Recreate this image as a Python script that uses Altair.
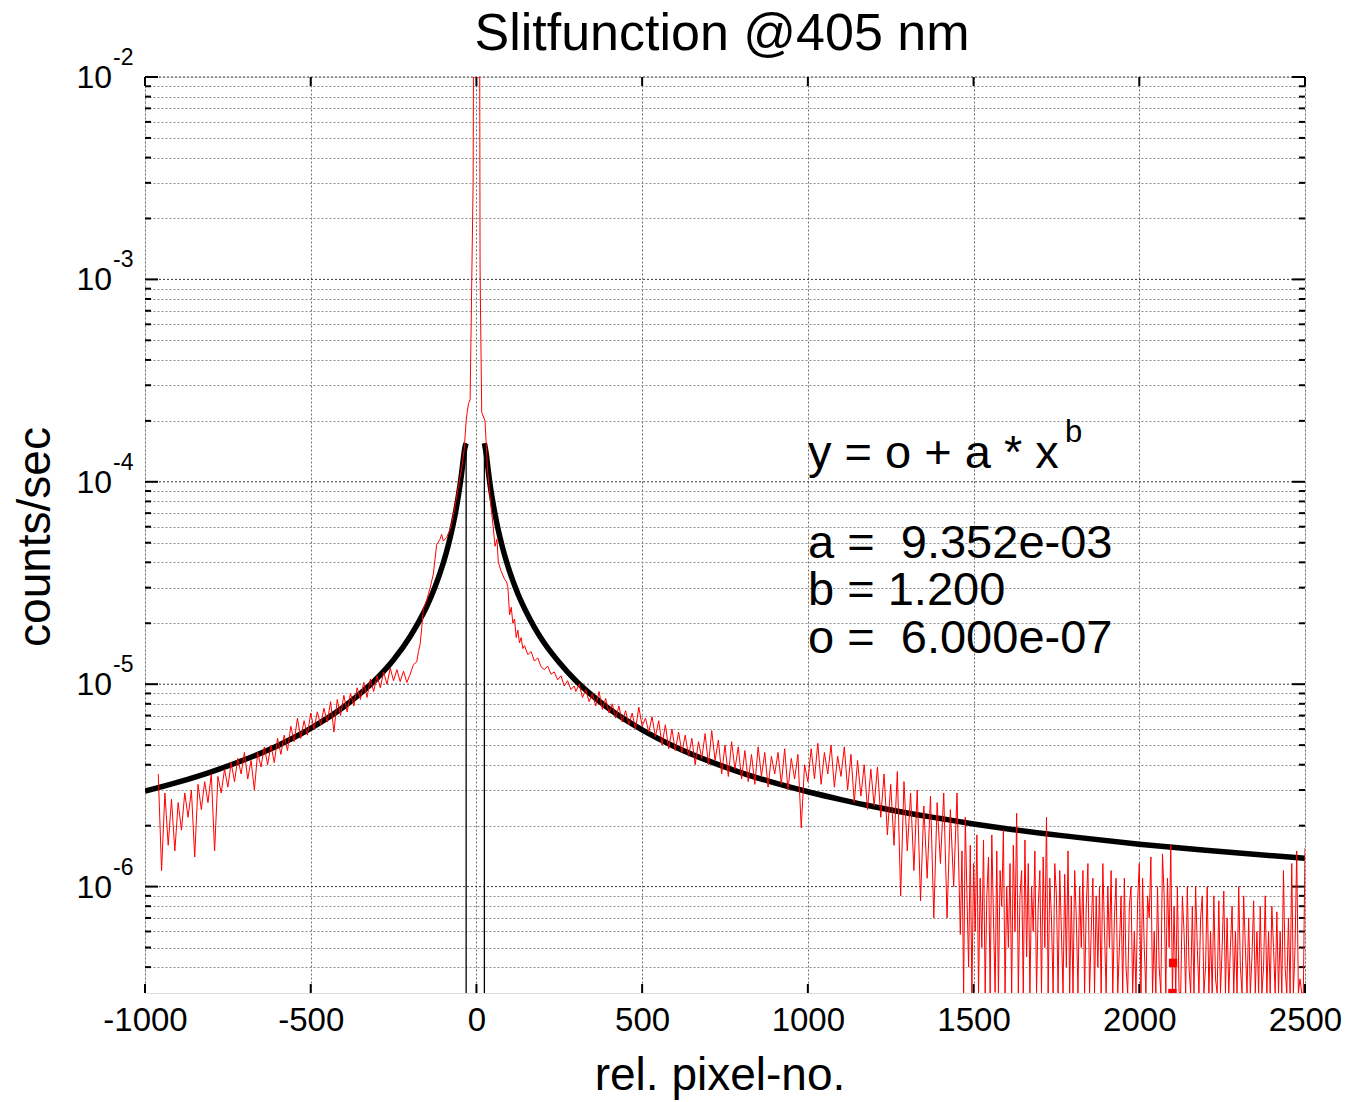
import altair as alt
import pandas as pd

# ---------------- text ----------------
TITLE = "Slitfunction @405 nm"
X_TITLE = "rel. pixel-no."
Y_TITLE = "counts/sec"
FIT_LINES = ["y = o + a * x", "a = \u00a09.352e-03", "b = 1.200", "o = \u00a06.000e-07"]
FIT_SUP = "b"

# ---------------- axes ----------------
x_ticks = [-1000, -500, 0, 500, 1000, 1500, 2000, 2500]
y_decades = [1e-2, 1e-3, 1e-4, 1e-5, 1e-6]
y_exponents = ["-2", "-3", "-4", "-5", "-6"]
y_minor = [k * 10.0 ** e for e in range(-7, -2) for k in range(2, 10) if k * 10.0 ** e > 3.05e-7]
Y_MIN, Y_MAX = 2.98e-7, 1e-2

# ---------------- measured slit function (red), units of 1e-6 counts/sec ----------------
red_left_x = list(range(-960, -199, 10))
red_left_y = [3.6, 1.2, 2.9, 1.6, 2.7, 1.5, 2.6, 1.9, 2.9, 2.2,
              3.0, 1.4, 3.2, 2.4, 3.3, 2.6, 3.6, 1.5, 3.5, 2.9,
              3.8, 3.1, 4.1, 3.3, 4.3, 3.6, 4.6, 3.4, 4.2, 3.0,
              4.6, 3.9, 4.9, 4.0, 5.0, 4.1, 5.4, 4.5, 5.6, 4.7,
              6.2, 5.2, 6.8, 5.4, 6.6, 5.6, 7.2, 6.0, 7.3, 6.3,
              7.6, 6.5, 8.2, 5.8, 8.4, 7.0, 8.8, 7.3, 9.0, 7.8,
              9.6, 8.4, 10.2, 8.6, 10.6, 9.2, 11.0, 9.6, 11.5, 10.0,
              12.0, 10.4, 11.8, 10.3, 11.6, 10.2, 11.2]

red_center_x = [-190, -180, -175, -170, -165, -160, -150, -140, -130, -120,
                -110, -105, -100, -90, -80, -75, -65, -55, -44, -37,
                -31, -28, -24, -19, -10, -9, 0, 10, 11, 12,
                16, 26, 29, 33, 41, 51, 56, 62, 66, 75,
                85, 91, 95, 100, 105, 110, 115, 120, 125, 130,
                135, 140, 145, 155, 165, 175, 185, 195, 205, 215,
                225, 235, 245, 255, 265, 275, 285, 295]
red_center_y = [12.5, 12.9, 14.5, 15.7, 19, 23.7, 26, 29.8, 35, 49,
                52, 55, 51, 53, 58, 62, 75, 94, 118, 144,
                200, 220, 243, 255, 3000, 15000, 20000, 15000, 1150, 800,
                220, 200, 160, 118, 84, 59, 48, 52, 40, 36,
                33, 32, 30, 22, 24, 20, 21, 17, 18.5, 16,
                17, 15, 15.5, 14, 14.5, 13, 13.5, 12.2, 11.8, 12.3,
                11.2, 11.5, 10.5, 11.0, 9.8, 10.4, 9.4, 9.8]

red_right_x = list(range(300, 1461, 10))
red_right_y = [9.2, 10.0, 8.6, 9.4, 8.2, 9.0, 7.8, 9.2, 7.5, 8.5,
               7.2, 8.0, 6.8, 7.8, 6.5, 7.4, 6.3, 7.2, 6.0, 7.7,
               6.2, 6.8, 5.8, 6.9, 5.5, 6.6, 5.0, 6.3, 4.8, 6.0,
               4.7, 5.8, 4.6, 5.6, 4.4, 5.4, 4.0, 5.2, 4.3, 5.7,
               4.0, 5.9, 4.2, 5.3, 3.6, 5.0, 3.5, 5.2, 3.8, 4.9,
               3.4, 4.7, 3.3, 4.5, 3.2, 4.9, 3.5, 4.6, 3.1, 4.4,
               3.6, 4.6, 3.2, 4.8, 3.0, 4.3, 3.4, 4.5, 1.95, 4.0,
               3.3, 4.8, 3.4, 5.1, 3.2, 4.6, 3.6, 5.0, 3.1, 4.4,
               3.5, 4.9, 3.0, 4.5, 2.6, 4.2, 2.8, 4.0, 2.4, 3.8,
               2.5, 3.9, 2.2, 3.6, 1.8, 3.2, 1.6, 3.7, 0.9, 3.3,
               1.5, 2.9, 1.2, 3.0, 0.85, 2.5, 1.1, 2.8, 0.7, 2.6,
               1.3, 2.9, 0.7, 2.4, 1.0, 2.9, 0.58]

red_tail_x = list(range(1465, 2501, 5))
red_tail_y = [1.5, 0.1, 2.2, 0.9, 0.4, 1.6, 0.1, 1.3, 0.6, 1.8,
              0.1, 1.1, 0.5, 1.7, 0.1, 0.9, 1.4, 0.1, 1.8, 0.7,
              0.3, 1.5, 0.1, 1.2, 0.8, 1.9, 0.1, 1.0, 0.5, 1.3,
              0.1, 1.6, 0.6, 2.3, 0.1, 0.9, 1.2, 0.1, 1.7, 0.45,
              1.3, 0.1, 1.0, 0.6, 1.5, 0.1, 0.8, 1.2, 0.1, 1.4,
              0.5, 2.2, 0.1, 1.1, 0.7, 0.1, 1.3, 0.9, 0.1, 1.2,
              0.6, 0.1, 1.15, 0.4, 1.5, 0.1, 0.9, 0.1, 1.2, 0.7,
              0.1, 1.0, 0.5, 1.2, 0.1, 0.8, 1.3, 0.1, 0.6, 1.1,
              0.1, 0.9, 0.4, 1.0, 0.1, 1.3, 0.6, 0.1, 1.0, 0.5,
              1.2, 0.1, 0.7, 1.1, 0.1, 0.5, 0.9, 0.1, 1.1, 0.4,
              0.1, 0.8, 1.0, 0.1, 0.6, 0.1, 0.85, 1.3, 0.1, 1.1,
              0.5, 0.1, 0.9, 0.7, 1.4, 0.1, 0.6, 0.1, 1.0, 0.4,
              0.1, 1.45, 0.9, 0.1, 1.1, 0.5, 1.6, 0.1, 0.8, 0.1,
              1.0, 0.3, 0.1, 0.9, 0.6, 0.1, 1.0, 0.4, 0.1, 0.8,
              0.1, 1.0, 0.5, 0.1, 0.7, 0.9, 0.1, 0.4, 1.0, 0.1,
              0.6, 0.1, 0.9, 0.35, 0.1, 0.85, 0.1, 0.5, 0.95, 0.1,
              0.7, 0.1, 0.5, 0.8, 0.1, 0.6, 0.1, 1.0, 0.4, 0.1,
              0.9, 0.5, 0.1, 0.7, 0.1, 0.45, 0.85, 0.1, 0.6, 0.1,
              0.8, 0.1, 0.4, 0.9, 0.1, 0.6, 0.1, 0.8, 0.5, 0.1,
              0.75, 0.1, 0.6, 0.1, 1.2, 0.4, 0.1, 0.7, 0.1, 1.3,
              0.1, 0.5, 1.5, 0.1, 0.35, 0.1, 0.1, 1.55]

red_marker_x = [2102, 2100]
red_marker_y = [0.42, 0.1]

# ---------------- fitted curve (black), units of 1e-6 counts/sec ----------------
fit_left_x = [-1000, -900, -800, -700, -600, -500, -400, -350, -300, -250, -200, -175,
              -150, -125, -100, -90, -80, -70, -60, -50, -45, -40, -35, -31]
fit_left_y = [2.96, 3.28, 3.69, 4.23, 4.97, 6.05, 7.73, 9.0, 10.7, 13.2, 17.2, 20.2,
              24.2, 30.2, 39.7, 45.2, 52.4, 61.9, 75.3, 95.2, 109.2, 127.5, 147, 155]
fit_right_x = [24, 30, 35, 40, 50, 60, 70, 80, 90, 100, 125, 150, 175, 200, 250, 300, 350,
               400, 500, 600, 700, 800, 900, 1000, 1100, 1200, 1300, 1400, 1500, 1600,
               1800, 2000, 2200, 2500]
fit_right_y = [155, 136, 116, 100, 78.6, 64.2, 54.0, 46.5, 40.7, 36.1, 28.0, 22.8, 19.1,
               16.4, 12.8, 10.4, 8.77, 7.56, 5.95, 4.90, 4.18, 3.65, 3.25, 2.94, 2.69,
               2.48, 2.31, 2.17, 2.04, 1.93, 1.76, 1.62, 1.51, 1.38]
fit_edge_x = [-31, 24]
fit_edge_y = [155, 155]

U = 1e-6
red_df = pd.DataFrame({
    "x": red_left_x + red_center_x + red_right_x + red_tail_x,
    "y": [v * U for v in red_left_y + red_center_y + red_right_y + red_tail_y],
}).sort_values("x")
marker_df = pd.DataFrame({"x": red_marker_x, "y": [v * U for v in red_marker_y]})
fit_df = pd.DataFrame({
    "x": fit_left_x + fit_right_x,
    "y": [v * U for v in fit_left_y + fit_right_y],
    "side": ["L"] * len(fit_left_x) + ["R"] * len(fit_right_x),
})
edge_df = pd.DataFrame({"x": fit_edge_x, "y": [v * U for v in fit_edge_y]})

W, H = 1160, 916
FONT = "Liberation Sans"

xs = alt.Scale(domain=[-1000, 2500], nice=False, zero=False)
ys = alt.Scale(type="log", domain=[Y_MIN, Y_MAX], nice=False, clamp=True)

X_AXIS = alt.Axis(values=x_ticks, grid=True, gridColor="#6f6f6f", gridDash=[2, 2], gridWidth=1,
                  ticks=False, domain=False, labelFont=FONT, labelFontSize=33, labelColor="black",
                  labelPadding=11, title=None, labelOverlap=False, labelFlush=False,
                  labelExpr="datum.value < 0 ? '-' + format(-datum.value, 'd') : format(datum.value, 'd')")
Y_AXIS = alt.Axis(values=y_minor, grid=True, gridColor="#8c8c8c", gridDash=[2, 2], gridWidth=1,
                  labels=False, ticks=False, domain=False, title=None)


def X(field):
    return alt.X(field, scale=xs, axis=X_AXIS)


def Y(field):
    return alt.Y(field, scale=ys, axis=Y_AXIS)


minor_df = pd.DataFrame({"y": y_minor})
decade_df = pd.DataFrame({"y": y_decades, "e": y_exponents})
xt_df = pd.DataFrame({"x": x_ticks})

decade_rules = alt.Chart(decade_df).mark_rule(color="#3c3c3c", strokeDash=[2, 2], strokeWidth=1).encode(
    y=Y("y:Q"))

# inward ticks
tick_style = dict(color="black", strokeWidth=2)
lt_minor = alt.Chart(minor_df).mark_rule(**tick_style).encode(y=Y("y:Q"), x=alt.value(0), x2=alt.value(6))
rt_minor = alt.Chart(minor_df).mark_rule(**tick_style).encode(y=Y("y:Q"), x=alt.value(W - 6), x2=alt.value(W))
lt_major = alt.Chart(decade_df).mark_rule(**tick_style).encode(y=Y("y:Q"), x=alt.value(0), x2=alt.value(13))
rt_major = alt.Chart(decade_df).mark_rule(**tick_style).encode(y=Y("y:Q"), x=alt.value(W - 13), x2=alt.value(W))
bt_x = alt.Chart(xt_df).mark_rule(**tick_style).encode(x=X("x:Q"), y=alt.value(H), y2=alt.value(H - 9))
tp_x = alt.Chart(xt_df).mark_rule(**tick_style).encode(x=X("x:Q"), y=alt.value(0), y2=alt.value(9))

# y labels: 10 with superscript exponent
ylab10 = alt.Chart(decade_df).mark_text(font=FONT, fontSize=32, align="right", baseline="alphabetic",
                                        dy=11, color="black").encode(
    y=Y("y:Q"), x=alt.value(-33), text=alt.value("10"))
ylabexp = alt.Chart(decade_df).mark_text(font=FONT, fontSize=23, align="left", baseline="alphabetic",
                                         dy=-12, color="black").encode(
    y=Y("y:Q"), x=alt.value(-32), text="e:N")

# data lines
fit_line = alt.Chart(fit_df).mark_line(color="black", strokeWidth=5.5, clip=True,
                                       interpolate="monotone").encode(
    x=X("x:Q"), y=Y("y:Q"), detail="side:N")
edges = alt.Chart(edge_df).mark_rule(color="black", strokeWidth=1.3).encode(
    x=X("x:Q"), y=Y("y:Q"), y2=alt.value(H))
red_line = alt.Chart(red_df).mark_line(color="#ff0000", strokeWidth=1, clip=True).encode(
    x=X("x:Q"), y=Y("y:Q"))
red_marks = alt.Chart(marker_df).mark_square(color="#ff0000", size=70, opacity=1, clip=True).encode(
    x=X("x:Q"), y=Y("y:Q"))

# texts
one = pd.DataFrame({"k": [0]})


def txt(s, x, y, size, align="left", angle=0, baseline="alphabetic"):
    return alt.Chart(one).mark_text(text=s, font=FONT, fontSize=size, align=align, angle=angle,
                                    baseline=baseline, color="black").encode(
        x=alt.value(x), y=alt.value(y))


texts = [
    txt(TITLE, W / 2 - 3, -27, 52, align="center"),
    txt(X_TITLE, W / 2 - 5, 1090 - 77, 46, align="center"),
    txt(Y_TITLE, -109, 460, 46, align="center", angle=270, baseline="middle"),
    txt(FIT_LINES[0], 663, 391, 47),
    txt(FIT_SUP, 920, 365, 31),
    txt(FIT_LINES[1], 663, 481, 47),
    txt(FIT_LINES[2], 663, 528, 47),
    txt(FIT_LINES[3], 663, 576, 47),
]

chart = alt.layer(
    decade_rules, lt_minor, rt_minor, lt_major, rt_major, bt_x, tp_x,
    ylab10, ylabexp, fit_line, edges, red_line, red_marks, *texts
).properties(
    width=W, height=H,
    autosize=alt.AutoSizeParams(type="none"),
    padding={"left": 145, "top": 77, "right": 42, "bottom": 109},
).configure_view(
    stroke="black", strokeWidth=2
).configure(background="white")

chart.save("out.html", embed_options={"renderer": "svg", "actions": False})
